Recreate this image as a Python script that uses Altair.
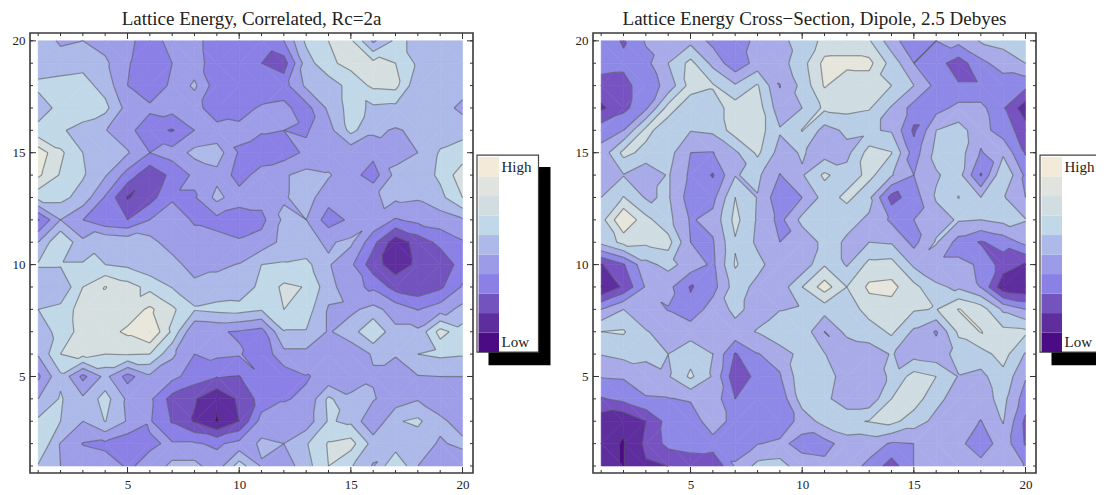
import altair as alt
import pandas as pd

LEFT_Z = [
 [5.8,4.8,5.0,4.6,4.2,3.6,4.3,4.3,3.5,3.4,3.4,4.0,6.2,7.0,7.2,4.8,6.2,5.8,5.4,5.0],
 [5.5,5.6,5.7,5.2,4.1,3.3,4.0,4.4,3.5,3.3,3.0,2.5,5.5,6.8,7.3,7.3,7.0,5.8,5.4,5.3],
 [6.2,6.3,6.4,5.6,4.0,3.3,4.2,5.2,3.4,3.4,3.4,3.6,5.2,5.4,6.4,7.2,7.3,5.2,5.5,5.5],
 [5.5,6.3,6.5,6.3,4.6,4.2,4.4,4.3,3.5,3.7,4.1,4.2,3.6,5.2,6.4,5.8,5.7,5.6,5.5,4.7],
 [6.3,6.1,5.7,5.05,4.3,3.4,2.9,4.0,4.3,4.2,4.1,4.0,3.9,4.6,6.3,5.2,4.9,5.2,5.5,5.7],
 [8.6,7.2,6.0,5.3,5.1,4.0,4.4,5.3,5.5,3.9,3.4,3.5,4.2,4.4,4.3,4.3,4.6,5.0,6.1,6.4],
 [8.2,6.9,6.1,5.1,3.6,2.2,3.3,4.2,4.7,3.6,4.4,4.9,5.3,5.1,4.4,3.5,5.3,5.4,6.2,7.6],
 [6.3,6.3,5.6,3.9,1.9,2.6,3.9,3.9,5.3,4.4,4.4,4.9,5.4,4.4,4.4,4.9,5.2,5.1,5.7,7.0],
 [2.9,5.0,4.0,3.2,3.0,4.0,4.4,3.9,3.7,3.5,3.7,5.2,5.0,3.5,4.2,4.8,3.9,4.3,4.5,4.9],
 [5.0,7.0,5.2,5.9,5.7,5.4,4.4,4.3,4.3,4.1,4.4,5.3,5.2,4.9,5.2,3.3,1.4,2.4,3.3,3.9],
 [6.1,6.1,6.1,6.0,5.8,5.3,5.5,4.4,4.8,5.05,6.0,6.1,6.3,5.1,4.2,2.4,1.5,2.2,2.2,3.5],
 [5.3,5.1,7.0,8.05,7.4,6.7,5.95,5.4,5.4,5.3,6.3,7.2,6.95,5.4,4.3,3.8,2.6,2.3,2.8,4.1],
 [6.0,6.3,7.5,7.6,7.4,8.2,7.2,6.1,6.3,6.4,6.1,7.0,6.5,4.9,4.8,5.3,4.6,3.95,4.5,5.3],
 [5.4,6.4,7.4,7.6,8.2,9.0,6.8,4.0,4.1,3.9,3.6,5.95,5.95,4.9,5.5,7.0,5.2,5.2,7.4,6.4],
 [5.1,7.0,7.3,7.0,7.05,7.0,5.2,4.0,4.2,4.1,3.3,4.7,4.7,4.4,4.4,5.1,5.1,6.0,6.2,6.1],
 [3.8,5.8,3.7,5.3,3.6,4.8,4.3,3.5,3.05,2.95,3.95,3.4,3.95,4.2,4.5,4.9,4.3,4.95,5.0,5.0],
 [5.0,6.1,5.2,6.4,4.8,4.2,2.6,2.1,1.15,2.2,3.4,3.95,4.1,6.2,5.2,5.1,4.4,4.9,4.4,4.4],
 [6.2,6.0,5.0,6.05,4.9,4.1,2.9,1.9,0.9,2.0,4.4,4.3,4.4,6.1,5.8,4.05,5.9,6.2,5.2,4.6],
 [7.0,4.95,3.95,3.8,3.3,3.9,4.1,4.1,3.85,4.3,5.2,5.0,5.9,7.1,7.4,5.6,5.4,5.4,4.9,5.2],
 [5.9,5.0,4.7,4.4,3.9,4.2,5.3,5.3,4.4,6.5,4.9,4.4,5.6,7.0,6.1,4.9,7.0,5.0,4.5,4.4],
]
RIGHT_Z = [
 [3.5,2.9,4.1,4.5,4.7,3.7,3.6,4.2,4.8,5.3,6.3,6.4,6.1,4.4,3.3,4.0,4.3,5.1,5.3,5.3],
 [3.3,3.2,3.7,5.0,6.3,4.7,3.3,4.4,4.6,5.6,7.3,7.3,7.3,5.6,4.0,3.4,2.5,3.7,4.5,5.0],
 [2.7,2.7,3.5,4.3,6.4,6.1,5.1,6.1,3.95,5.3,7.1,6.3,6.4,6.0,5.0,3.7,3.1,3.1,3.4,3.3],
 [1.8,2.7,3.8,6.4,5.4,5.5,6.5,6.5,4.4,5.0,6.2,6.3,6.1,4.9,3.6,3.6,4.3,4.3,3.1,1.4],
 [3.6,4.0,6.3,5.4,5.05,5.2,6.5,6.5,5.1,6.05,4.6,5.2,5.1,4.9,2.8,5.0,5.4,4.4,3.5,2.5],
 [4.3,6.3,5.7,5.4,4.0,3.95,4.8,6.2,4.6,5.1,4.5,4.7,6.4,6.05,3.5,5.3,5.5,3.9,4.8,2.9],
 [4.3,4.95,4.2,5.1,3.8,2.9,4.95,5.2,3.95,4.9,6.2,5.4,6.3,5.1,4.0,4.9,5.4,2.9,5.95,3.8],
 [5.0,6.05,4.9,5.1,3.5,3.7,6.0,4.95,3.3,4.0,5.4,6.3,5.2,2.6,3.5,5.1,6.05,5.0,5.1,4.0],
 [5.6,8.0,6.3,5.3,3.9,4.3,6.3,4.9,3.7,5.3,5.2,5.2,4.9,3.8,4.0,4.6,5.1,5.0,5.3,5.05],
 [5.3,6.3,6.2,6.4,4.0,3.9,5.9,4.8,4.0,4.3,5.3,4.9,5.0,4.9,3.7,5.1,3.6,2.9,3.4,4.3],
 [1.9,2.9,4.7,5.3,4.6,3.8,6.1,5.3,4.4,4.3,5.9,4.9,6.3,6.4,4.8,4.2,4.2,3.9,2.5,1.9],
 [0.95,2.2,4.1,4.3,2.9,3.6,5.5,4.7,4.4,6.0,7.5,6.0,7.2,7.3,6.3,5.2,4.8,3.95,1.3,1.1],
 [4.0,5.0,4.5,3.95,3.3,4.5,5.2,4.7,4.95,5.1,5.4,5.3,6.5,6.6,6.1,5.95,7.05,6.5,4.8,4.0],
 [6.0,6.1,5.05,4.7,4.6,4.95,4.7,5.05,5.9,5.7,3.97,5.3,5.4,6.2,4.8,3.9,6.2,7.05,6.3,6.2],
 [5.05,5.3,5.2,5.0,5.6,5.0,2.9,3.95,4.4,5.4,5.05,4.1,4.6,5.05,4.6,4.4,5.4,5.6,6.4,4.9],
 [4.05,4.1,4.6,4.9,6.2,4.9,2.3,3.3,3.9,5.7,5.5,4.5,4.3,5.2,6.4,6.0,4.95,4.7,5.7,4.1],
 [2.9,3.3,3.9,3.95,4.1,4.6,3.0,3.4,3.3,5.5,5.3,4.3,4.3,6.0,6.5,5.3,4.5,4.6,5.3,3.5],
 [1.4,1.1,2.0,3.4,3.4,4.6,3.6,3.4,3.3,4.4,5.4,5.8,6.05,6.3,5.5,4.7,4.6,3.95,5.05,2.8],
 [1.2,0.95,2.2,3.3,3.5,3.6,3.6,3.95,4.2,3.7,3.6,4.5,4.4,3.9,4.0,4.4,4.3,3.3,4.6,2.9],
 [1.7,0.95,1.9,2.0,2.3,2.0,4.1,5.3,5.4,4.4,4.3,4.4,3.8,2.5,4.0,4.4,4.4,4.4,4.4,3.95],
]
LEFT_COLORS = ['#4b0b85','#5e2d9e','#7353bd','#8a80e6','#9d9de8','#adb9e8','#c1d8e8','#d6dfe0','#e8e7dc','#f3ead9']
RIGHT_COLORS = ['#4b0b85','#5e2d9e','#7653c0','#8e88e6','#a8abe8','#b8cee6','#cfdde2','#e6e6dc','#f0ead8','#f3ead9']
LEGEND_COLORS = ['#4b0b85','#5e2d9e','#7353bd','#8a80e6','#9b9be8','#adb9e8','#c1d8e8','#d2dde2','#e0e3de','#f3ead9']
TICK_LABELS = [5, 10, 15, 20]
MINOR_TICKS = list(range(1, 21))
FONT = 'Liberation Serif'
XDOM = [0.633, 20.47]
YDOM = [0.687, 20.35]


def clip(poly, level, keep_above):
    out = []
    n = len(poly)
    for i in range(n):
        a, b = poly[i], poly[(i + 1) % n]
        ina = a[2] >= level if keep_above else a[2] <= level
        inb = b[2] >= level if keep_above else b[2] <= level
        if ina:
            out.append(a)
        if ina != inb:
            t = (level - a[2]) / (b[2] - a[2])
            out.append((a[0] + t * (b[0] - a[0]), a[1] + t * (b[1] - a[1]), level))
    return out


def contours(rows):
    polys, segs = [], []
    pid = 0
    for r in range(19):
        for c in range(19):
            yt, yb = 20 - r, 19 - r
            xl, xr = c + 1, c + 2
            tl = (xl, yt, rows[r][c] + 0.0013)
            tr = (xr, yt, rows[r][c + 1] + 0.0013)
            bl = (xl, yb, rows[r + 1][c] + 0.0013)
            br = (xr, yb, rows[r + 1][c + 1] + 0.0013)
            if abs(tl[2] - br[2]) <= abs(tr[2] - bl[2]):
                tris = [[tl, tr, br], [tl, br, bl]]
            else:
                tris = [[tl, tr, bl], [tr, br, bl]]
            for tri in tris:
                for band in range(10):
                    p = clip(clip(tri, band, True), band + 1, False)
                    if len(p) >= 3:
                        for v, q in enumerate(p):
                            polys.append({'pid': pid, 'v': v, 'x': q[0], 'y': q[1], 'band': band})
                        pid += 1
                for lev in range(1, 10):
                    pts = []
                    for i in range(3):
                        a, b = tri[i], tri[(i + 1) % 3]
                        if (a[2] - lev) * (b[2] - lev) < 0:
                            t = (lev - a[2]) / (b[2] - a[2])
                            pts.append((a[0] + t * (b[0] - a[0]), a[1] + t * (b[1] - a[1])))
                    if len(pts) == 2:
                        segs.append({'x': pts[0][0], 'y': pts[0][1], 'x2': pts[1][0], 'y2': pts[1][1]})
    return pd.DataFrame(polys), pd.DataFrame(segs)


def panel(rows, colors, title, shadow_right):
    polys, segs = contours(rows)
    w, h = 443, 440
    xs = alt.Scale(domain=XDOM, nice=False, zero=False)
    ys = alt.Scale(domain=YDOM, nice=False, zero=False)
    ax = alt.Axis(values=TICK_LABELS, ticks=False, domain=False, grid=False, title=None,
                  labelFont=FONT, labelFontSize=13, labelColor='#222', labelPadding=5)
    fills = alt.Scale(domain=list(range(10)), range=colors)
    fill = alt.Chart(polys).mark_line(interpolate='linear-closed', strokeWidth=0.6).encode(
        x=alt.X('x:Q', scale=xs, axis=ax),
        y=alt.Y('y:Q', scale=ys, axis=ax),
        detail='pid:N', order='v:Q',
        fill=alt.Fill('band:O', scale=fills, legend=None),
        stroke=alt.Stroke('band:O', scale=fills, legend=None))
    lines = alt.Chart(segs).mark_rule(color='#505058', opacity=0.58, strokeWidth=1.2).encode(
        x='x:Q', y='y:Q', x2='x2:Q', y2='y2:Q')
    layers = [fill, lines]
    for ticks, ln in ((MINOR_TICKS, 3), (TICK_LABELS, 6)):
        td = pd.DataFrame({'t': ticks})
        base = alt.Chart(td).mark_rule(color='#333', strokeWidth=1)
        layers += [
            base.encode(x='t:Q', y=alt.value(h), y2=alt.value(h - ln)),
            base.encode(x='t:Q', y=alt.value(0), y2=alt.value(ln)),
            base.encode(y='t:Q', x=alt.value(0), x2=alt.value(ln)),
            base.encode(y='t:Q', x=alt.value(w), x2=alt.value(w - ln)),
        ]
    main = alt.layer(*layers)

    ly = alt.Scale(domain=[-6.2, 16.36], nice=False, zero=False)
    shadow = alt.Chart(pd.DataFrame({'lo': [-0.67], 'hi': [9.49]})).mark_rect(color='black').encode(
        x=alt.value(458.5), x2=alt.value(shadow_right),
        y=alt.Y('hi:Q', scale=ly, axis=None), y2='lo:Q')
    box = alt.Chart(pd.DataFrame({'lo': [0.0], 'hi': [10.1]})).mark_rect(
        fill='white', stroke='#444', strokeWidth=1.2).encode(
        x=alt.value(447), x2=alt.value(508.5), y=alt.Y('hi:Q', scale=ly, axis=None), y2='lo:Q')
    cd = pd.DataFrame({'lo': list(range(10)), 'hi': list(range(1, 11)), 'c': LEGEND_COLORS})
    cells = alt.Chart(cd).mark_rect().encode(
        x=alt.value(448.5), x2=alt.value(469), y=alt.Y('hi:Q', scale=ly, axis=None), y2='lo:Q',
        fill=alt.Fill('c:N', scale=None))
    labels = alt.Chart(pd.DataFrame({'t': ['High', 'Low'], 'p': [9.49, 0.5]})).mark_text(
        font=FONT, fontSize=15, align='left', color='#222').encode(
        x=alt.value(471.5), y=alt.Y('p:Q', scale=ly, axis=None), text='t:N')
    legend = alt.layer(shadow, box, cells, labels)

    return alt.layer(main, legend).resolve_scale(y='independent', fill='independent', stroke='independent').properties(
        width=w, height=h,
        title=alt.TitleParams(title, font=FONT, fontSize=19, fontWeight='normal', color='#222',
                              anchor='middle', offset=4))


left = panel(LEFT_Z, LEFT_COLORS, 'Lattice Energy, Correlated, Rc=2a', 520.5)
right = panel(RIGHT_Z, RIGHT_COLORS, 'Lattice Energy Cross\u2212Section, Dipole, 2.5 Debyes', 509.5)
chart = alt.hconcat(left, right, spacing=22).properties(
    padding={'left': 3, 'top': 0, 'right': -8, 'bottom': 0}).configure_view(
    stroke='#3a3a3a', strokeWidth=1.6)
chart.save("out.html", embed_options={"renderer": "svg", "actions": False})
